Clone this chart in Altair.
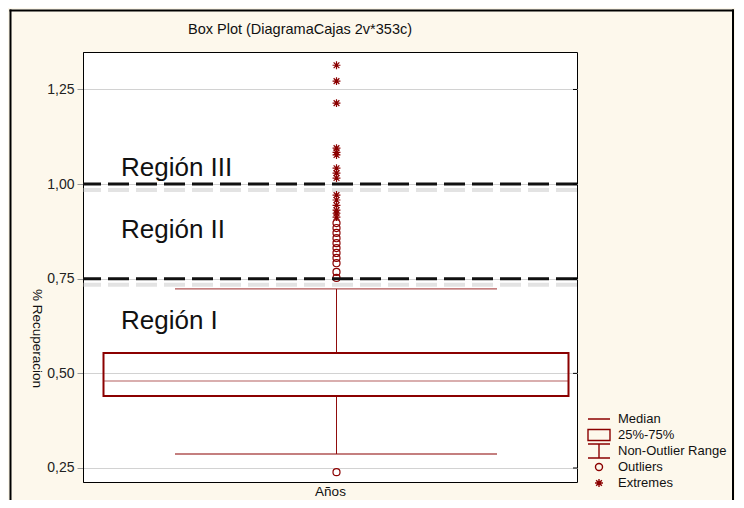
import altair as alt
import pandas as pd

# ---------------- data ----------------
category = ["Años"]
q1_values = [0.440]
median_values = [0.480]
q3_values = [0.554]
whisker_low_values = [0.287]
whisker_high_values = [0.723]

outlier_values = [0.239, 0.752, 0.768, 0.791, 0.805, 0.818, 0.831, 0.844,
                  0.857, 0.871, 0.884, 0.897]
extreme_values = [0.913, 0.923, 0.931, 0.944, 0.958, 0.971, 1.016, 1.029,
                  1.042, 1.077, 1.084, 1.095, 1.214, 1.272, 1.314]

region_labels = ["Región III", "Región II", "Región I"]
region_y = [1.022, 0.857, 0.617]

boundary_values = [1.00, 0.75]
y_ticks = [0.25, 0.50, 0.75, 1.00, 1.25]
legend_items = ["Median", "25%-75%", "Non-Outlier Range", "Outliers", "Extremes"]

# ---------------- styling ----------------
DARK_RED = "#8B0000"
LINE_RED = "#900C0C"
MEDIAN_RED = "#961A1A"
FONT = "Liberation Sans"
W, H = 494, 430

legend_paths = [
    "M-1,0H1",                                   # median line
    "M-1,-0.5H1V0.5H-1Z",                         # box
    "M-1,-0.64H1M0,-0.64V0.64M-1,0.64H1",          # whisker range
    "M-0.32,0A0.32,0.32 0 1,0 0.32,0A0.32,0.32 0 1,0 -0.32,0",  # outlier circle
    "M-0.36,0H0.36M0,-0.36V0.36M-0.26,-0.26L0.26,0.26M-0.26,0.26L0.26,-0.26",  # extreme
]

box_df = pd.DataFrame({"cat": category, "q1": q1_values, "median": median_values,
                       "q3": q3_values})
whisker_df = pd.DataFrame({
    "cat": category * 2,
    "start": [whisker_low_values[0], q3_values[0]],
    "end": [q1_values[0], whisker_high_values[0]],
})
cap_df = pd.DataFrame({"cat": category * 2,
                       "value": whisker_low_values + whisker_high_values})
points_df = pd.DataFrame({
    "cat": category * (len(outlier_values) + len(extreme_values)),
    "value": outlier_values + extreme_values,
    "type": ["Outliers"] * len(outlier_values) + ["Extremes"] * len(extreme_values),
})
region_df = pd.DataFrame({"label": region_labels, "value": region_y})
boundary_df = pd.DataFrame({"value": boundary_values})
tick_df = pd.DataFrame({"value": y_ticks})
dummy_df = pd.DataFrame({"a": [0]})

y_scale = alt.Scale(domain=[0.213, 1.349], nice=False, zero=False)
y_axis = alt.Axis(
    title="% Recuperacion", values=y_ticks,
    labelExpr="replace(format(datum.value, '.2f'), '.', ',')",
    labelFontSize=14, labelColor="#222222", labelPadding=3, labelFont=FONT,
    tickSize=6, tickColor="#9a9a9a", domainColor="#000000",
    grid=True, gridColor="#d2d2d2",
    titleAngle=90, titleX=-47, titleY=286, titleAlign="center",
    titleBaseline="middle", titleFontSize=13.5, titleFontWeight="normal",
    titleColor="#111111", titleFont=FONT,
)
x_scale = alt.Scale(domain=category, paddingInner=0, paddingOuter=0)
x_axis = alt.Axis(
    title="Años", labels=False, ticks=False, domain=False, grid=False,
    titleFontSize=13.5, titleFontWeight="normal", titleColor="#111111",
    titleFont=FONT, titleY=13, titleBaseline="alphabetic",
)


def Y(field):
    return alt.Y(f"{field}:Q", scale=y_scale, axis=y_axis)


def X():
    return alt.X("cat:N", scale=x_scale, axis=x_axis)


XOFF = 6

whiskers = alt.Chart(whisker_df).mark_rule(
    color=LINE_RED, strokeWidth=1, xOffset=XOFF + 0.5
).encode(x=X(), y=Y("start"), y2="end")

caps = alt.Chart(cap_df).mark_tick(
    color=LINE_RED, thickness=1.3, size=322, xOffset=XOFF
).encode(x=X(), y=Y("value"))

box = alt.Chart(box_df).mark_bar(
    fill="transparent", stroke=DARK_RED, strokeWidth=2, width=465, xOffset=XOFF
).encode(x=X(), y=Y("q1"), y2="q3")

median = alt.Chart(box_df).mark_tick(
    color=MEDIAN_RED, thickness=1.1, size=465, xOffset=XOFF
).encode(x=X(), y=Y("median"))

points = alt.Chart(points_df).mark_point(
    filled=False, color=DARK_RED, size=484, strokeWidth=1.2, opacity=1, xOffset=XOFF + 0.5
).encode(
    x=X(), y=Y("value"),
    shape=alt.Shape(
        "type:N",
        scale=alt.Scale(domain=legend_items, range=legend_paths),
        legend=alt.Legend(
            title=None, orient="none", legendX=504, legendY=359,
            symbolSize=484, symbolStrokeColor=DARK_RED, symbolFillColor="transparent",
            symbolStrokeWidth=1.4, symbolOffset=0, padding=0,
            labelFontSize=13, labelFont=FONT, labelColor="#111111", labelOffset=7,
            labelLimit=300, rowPadding=0, clipHeight=16,
        ),
    ),
)

shadow = alt.Chart(boundary_df).mark_rule(
    color="#b8b8b8", strokeWidth=4, opacity=0.4, strokeDash=[21, 7], yOffset=6
).encode(y=Y("value"))

boundaries = alt.Chart(boundary_df).mark_rule(
    color="#111111", strokeWidth=3, strokeDash=[21, 7]
).encode(y=Y("value"))

regions = alt.Chart(region_df).mark_text(
    align="left", baseline="alphabetic", fontSize=26, font=FONT, color="#111111"
).encode(x=alt.value(38), y=Y("value"), text="label:N")

right_ticks = alt.Chart(tick_df).mark_rule(color="#000000", strokeWidth=1).encode(
    x=alt.value(W - 4), x2=alt.value(W), y=Y("value")
)

frame_left = alt.Chart(dummy_df).mark_rule(color="#000000", strokeWidth=2).encode(
    x=alt.value(-72.5), y=alt.value(-42.5), y2=alt.value(H + 60)
)
frame_top = alt.Chart(dummy_df).mark_rule(color="#000000", strokeWidth=2).encode(
    x=alt.value(-73.5), x2=alt.value(651), y=alt.value(-41.5)
)
frame_right = alt.Chart(dummy_df).mark_rule(color="#000000", strokeWidth=2).encode(
    x=alt.value(650), y=alt.value(-42.5), y2=alt.value(H + 60)
)

chart = alt.layer(
    shadow, whiskers, caps, box, median, points, boundaries, regions, right_ticks,
    frame_left, frame_top, frame_right,
).properties(
    width=W, height=H,
    title=alt.Title(
        "Box Plot (DiagramaCajas 2v*353c)", fontSize=14.5, fontWeight="normal",
        font=FONT, color="#111111", anchor="middle", frame="group", dx=-30,
        offset=-39.5, baseline="alphabetic",
    ),
    autosize=alt.AutoSizeParams(type="none"),
    padding={"left": 75, "top": 44, "right": 158, "bottom": 18},
    background="#FDF8EC",
).configure_view(
    fill="white", stroke="#000000", strokeWidth=1
)

chart.save("out.html", embed_options={"renderer": "svg", "actions": False})
